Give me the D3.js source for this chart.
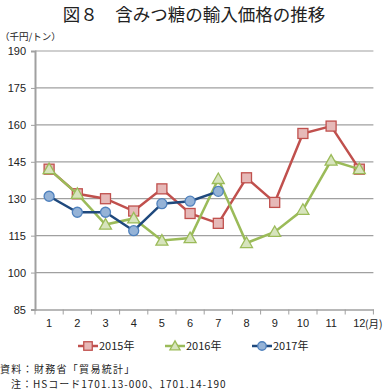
<!DOCTYPE html>
<html><head><meta charset="utf-8">
<script src="https://cdn.jsdelivr.net/npm/d3@7"></script>
<style>body{margin:0;background:#fff;}svg{display:block;font-family:"Noto Sans CJK JP","Noto Sans",sans-serif;}</style>
</head><body>
<svg id="c" width="388" height="390"></svg>
<script>
const months = [1,2,3,4,5,6,7,8,9,10,11,12];
const yTicks = [85,100,115,130,145,160,175,190];
const s2015 = [142,132,130,125,134,124,120,138.5,128.5,156.5,159.5,142];
const s2016 = [142,132,119.5,122,113,114,138,112,116.5,125.5,145.5,142];
const s2017 = [131,124.5,124.5,117,128,129,133];
const seriesNames = ["2015年","2016年","2017年"];

const svg = d3.select("#c");
const L = 35, R = 373.4, T = 51, B = 309.5;
const x = d3.scaleBand().domain(months).range([L, R]);
const y = d3.scaleLinear().domain([85,190]).range([B, T]);
const cx = d => x(d) + x.bandwidth()/2;

svg.append("text").attr("x",194).attr("y",21).attr("text-anchor","middle")
  .attr("font-size",17.5).attr("fill","#222").text("図８　含みつ糖の輸入価格の推移");
svg.append("text").attr("x",0).attr("y",40).attr("font-size",9.5).attr("fill","#222").text("（千円/トン）");

// grid
svg.append("g").selectAll("line").data(yTicks.filter(d=>d>85)).join("line")
  .attr("x1",L).attr("x2",R).attr("y1",d=>y(d)).attr("y2",d=>y(d))
  .attr("stroke","#a0a0a0").attr("stroke-width",1.2);

// y axis
const ya = svg.append("g").attr("transform",`translate(${L},0)`)
  .call(d3.axisLeft(y).tickValues(yTicks).tickSize(4).tickPadding(5));
ya.select(".domain").attr("stroke","#a0a0a0").attr("stroke-width",2);
ya.selectAll(".tick line").attr("stroke","#a0a0a0");
ya.selectAll("text").attr("font-size",11).attr("fill","#222").attr("font-family","Arial, Liberation Sans, sans-serif");

// x axis
const xa = svg.append("g").attr("transform",`translate(0,${B})`)
  .call(d3.axisBottom(x).tickSize(0).tickPadding(10));
xa.select(".domain").attr("stroke","#a0a0a0").attr("stroke-width",1.5);
xa.selectAll("text").attr("font-size",11).attr("fill","#222").attr("font-family","Arial, Liberation Sans, sans-serif");
svg.append("g").selectAll("line").data(d3.range(months.length+1)).join("line")
  .attr("x1",i=>L+i*x.bandwidth()).attr("x2",i=>L+i*x.bandwidth())
  .attr("y1",B).attr("y2",B+5).attr("stroke","#a0a0a0");
svg.append("text").attr("x",365).attr("y",B+18).attr("font-size",10.5).attr("fill","#222").text("(月)");

const styles = [
  {line:"#C0504D", fill:"#E6B9B8", stroke:"#C0504D", shape:"square"},
  {line:"#9BBB59", fill:"#D7E4BD", stroke:"#9BBB59", shape:"triangle"},
  {line:"#1F497D", fill:"#95B3D7", stroke:"#4F81BD", shape:"circle"}
];
const data = [s2015, s2016, s2017];

function marker(g, shape, st, px, py, s){
  s = s || 1;
  if(shape==="square") g.append("rect").attr("x",px-5*s).attr("y",py-5*s).attr("width",10*s).attr("height",10*s)
    .attr("fill",st.fill).attr("stroke",st.stroke).attr("stroke-width",1.3);
  else if(shape==="triangle") g.append("path").attr("d",`M${px},${py-6*s}L${px+6*s},${py+4.5*s}L${px-6*s},${py+4.5*s}Z`)
    .attr("fill",st.fill).attr("stroke",st.stroke).attr("stroke-width",1.3);
  else g.append("circle").attr("cx",px).attr("cy",py).attr("r",5*s)
    .attr("fill",st.fill).attr("stroke",st.stroke).attr("stroke-width",1.3);
}

const line = d3.line().x((d,i)=>cx(months[i])).y(d=>y(d));
data.forEach((vals,k)=>{
  const st = styles[k];
  const g = svg.append("g");
  g.append("path").datum(vals).attr("d",line).attr("fill","none").attr("stroke",st.line).attr("stroke-width",2.5);
  vals.forEach((v,i)=>marker(g, st.shape, st, cx(months[i]), y(v)));
});

// legend
const lx = [78,165,252], ly = 346;
seriesNames.forEach((n,k)=>{
  const st = styles[k];
  const g = svg.append("g");
  g.append("line").attr("x1",lx[k]).attr("x2",lx[k]+20).attr("y1",ly).attr("y2",ly).attr("stroke",st.line).attr("stroke-width",2.5);
  marker(g, st.shape, st, lx[k]+10, ly, 0.85);
  g.append("text").attr("x",lx[k]+21).attr("y",ly+4).attr("font-size",11).attr("fill","#222").text(n);
});

svg.append("text").attr("x",0).attr("y",372.5).attr("font-size",10).attr("letter-spacing",1.3).attr("fill","#222").text("資料：財務省「貿易統計」");
svg.append("text").attr("x",11).attr("y",387.5).attr("font-size",10).attr("letter-spacing",1.0).attr("fill","#222").text("注：HSコード1701.13-000、1701.14-190");
</script>
</body></html>
